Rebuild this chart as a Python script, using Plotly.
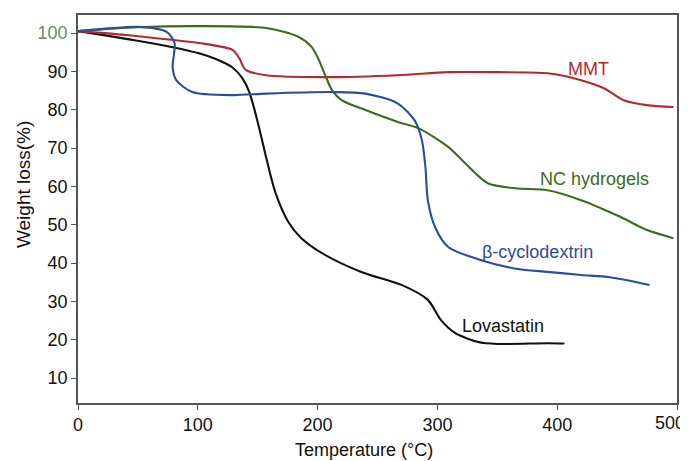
import plotly.graph_objects as go

lov_x = [0, 46, 79, 101, 115, 129, 137, 143, 151, 157, 165, 176, 186, 204, 237, 270, 292, 303, 315, 334, 350, 392, 406]
lov_y = [100.5, 98.2, 96.3, 94.7, 93.2, 91.0, 88.3, 84.6, 75.5, 67.6, 58.2, 50.5, 46.6, 42.5, 37.6, 34.3, 30.4, 25.1, 21.7, 19.4, 18.9, 19.1, 19.0]

mmt_x = [0, 40, 79, 101, 129, 134.5, 140, 157, 207, 267, 309, 350, 392, 420, 439, 456, 475, 497]
mmt_y = [100.5, 99.5, 98.2, 97.4, 95.6, 93.5, 90.4, 89.0, 88.5, 89.0, 89.8, 89.8, 89.5, 87.7, 85.6, 82.4, 81.2, 80.7]

nc_x = [0, 50, 100, 157, 184, 195, 201, 207, 212, 220, 240, 267, 284, 309, 323, 342, 365, 392, 420, 453, 475, 497]
nc_y = [100.5, 101.5, 101.8, 101.3, 99.0, 96.4, 93.0, 88.5, 85.1, 82.5, 79.9, 76.8, 75.2, 70.3, 66.1, 60.8, 59.5, 59.0, 56.4, 52.0, 48.6, 46.5]

bcd_x = [0, 25, 51.5, 74, 80.6, 79, 82, 95.5, 129, 157, 212, 240, 267, 281, 287, 290, 292, 298, 309, 336, 364, 392, 420, 444, 477]
bcd_y = [100.5, 101.2, 101.6, 100.3, 97.4, 91.1, 87.7, 84.6, 83.8, 84.2, 84.6, 84.2, 81.6, 77.2, 72.1, 65.1, 56.4, 49.4, 44.2, 40.8, 38.6, 37.7, 36.9, 36.3, 34.3]

x_ticks = [0, 100, 200, 300, 400, 500]
x_ticklabels = ["0", "100", "200", "300", "400", ""]  # last label drawn as annotation to stay in view
y_ticks = [10, 20, 30, 40, 50, 60, 70, 80, 90, 100]
y_ticklabels = ["10", "20", "30", "40", "50", "60", "70", "80", "90",
                "<span style='color:#6b8a6b'>100</span>"]

series = [
    ("Lovastatin", lov_x, lov_y, "#111111"),
    ("MMT", mmt_x, mmt_y, "#b22a2e"),
    ("NC hydrogels", nc_x, nc_y, "#3c6a1e"),
    ("β-cyclodextrin", bcd_x, bcd_y, "#2d4c9e"),
]

FONT = "Liberation Sans, Arial"

fig = go.Figure()
for name, xs, ys, col in series:
    fig.add_trace(go.Scatter(x=xs, y=ys, mode="lines", name=name,
                             line=dict(color=col, width=2.1, shape="spline", smoothing=0.8)))

labels = [
    ("MMT", 426, 90.6, "#b22a2e"),
    ("NC hydrogels", 431, 61.9, "#3c6a1e"),
    ("β-cyclodextrin", 383.7, 42.9, "#2d4c9e"),
    ("Lovastatin", 354.7, 23.6, "#111111"),
]
for t, x, y, c in labels:
    fig.add_annotation(x=x, y=y, text=t, showarrow=False, xanchor="center", yanchor="middle",
                       font=dict(size=18, color=c, family=FONT))

# last x tick label, kept inside the page
fig.add_annotation(xref="paper", yref="paper", x=1.0, y=0, text="500", showarrow=False,
                   xanchor="right", yanchor="top", xshift=10, yshift=-8,
                   font=dict(size=18, color="#111111", family=FONT))

# axis titles placed as in the reference
fig.add_annotation(xref="paper", yref="paper", x=-0.092, y=0.564, text="Weight loss(%)",
                   textangle=-90, showarrow=False, xanchor="center", yanchor="middle",
                   font=dict(size=19, color="#111111", family=FONT))
fig.add_annotation(xref="paper", yref="paper", x=0.477, y=0, yshift=-47, text="Temperature (°C)",
                   showarrow=False, xanchor="center", yanchor="middle",
                   font=dict(size=18, color="#111111", family=FONT))

fig.update_layout(
    width=680, height=453,
    margin=dict(l=70, r=11, t=7, b=58, autoexpand=False),
    paper_bgcolor="white", plot_bgcolor="white",
    showlegend=False,
    font=dict(family=FONT, size=18, color="#111111"),
)
fig.update_xaxes(range=[0, 500], tickvals=x_ticks, ticktext=x_ticklabels, ticks="outside",
                 ticklen=5, tickcolor="#555",
                 showline=True, linecolor="#555", linewidth=1.5, mirror=True, showgrid=False,
                 zeroline=False, automargin=False, tickfont=dict(size=18))
fig.update_yaxes(range=[3.5, 104.7], tickvals=y_ticks, ticktext=y_ticklabels, ticks="outside",
                 ticklen=5, tickcolor="#555", showline=True, linecolor="#555", linewidth=1.5,
                 mirror=True, showgrid=False, zeroline=False, automargin=False,
                 tickfont=dict(size=18))

fig.write_html("out.html")
